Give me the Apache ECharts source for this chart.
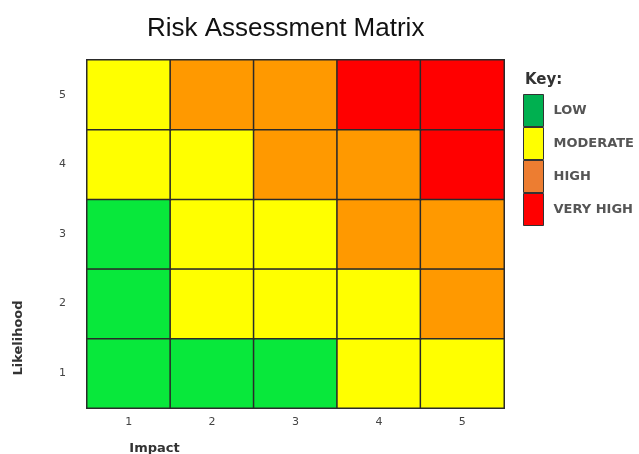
<!DOCTYPE html>
<html>
<head>
<meta charset="utf-8">
<script src="https://cdn.jsdelivr.net/npm/echarts@6/dist/echarts.min.js"></script>
<style>html,body{margin:0;padding:0;background:#fff;}#c{width:639px;height:454px;}</style>
</head>
<body>
<div id="c"></div>
<script>
var impactLabels = ['1', '2', '3', '4', '5'];
var likelihoodLabels = ['1', '2', '3', '4', '5'];
// risk level per row (likelihood 1..5), columns impact 1..5
// 1 = LOW, 2 = MODERATE, 3 = HIGH, 4 = VERY HIGH
var row1 = [1, 1, 1, 2, 2];
var row2 = [1, 2, 2, 2, 3];
var row3 = [1, 2, 2, 3, 3];
var row4 = [2, 2, 3, 3, 4];
var row5 = [2, 3, 3, 4, 4];
var levelNames = ['LOW', 'MODERATE', 'HIGH', 'VERY HIGH'];
var cellColors = ['#08E83B', '#FFFF00', '#FF9900', '#FF0000'];
var keyColors = ['#00B050', '#FFFF00', '#ED7D31', '#FF0000'];

var rows = [row1, row2, row3, row4, row5];
var cells = [];
rows.forEach(function (r, yi) {
  r.forEach(function (v, xi) { cells.push([xi, yi, v]); });
});

var series = [{
  type: 'heatmap',
  data: cells,
  itemStyle: { borderColor: '#2a2a2a', borderWidth: 1.5 },
  emphasis: { disabled: true },
  silent: true
}];
levelNames.forEach(function (n, i) {
  series.push({ type: 'bar', name: n, data: [], itemStyle: { color: keyColors[i] } });
});

var chart = echarts.init(document.getElementById('c'));
chart.setOption({
  animation: false,
  title: [{
    text: 'Risk Assessment Matrix',
    left: 142, top: 11,
    textStyle: { fontFamily: 'Liberation Sans', fontSize: 26, fontWeight: 'normal', color: '#111' }
  }, {
    text: 'Key:',
    left: 520, top: 68,
    textStyle: { fontFamily: 'DejaVu Sans', fontSize: 15, fontWeight: 'bold', color: '#333' }
  }],
  grid: { left: 87, right: 135, top: 60, bottom: 46, containLabel: false, outerBoundsMode: 'none' },
  xAxis: {
    type: 'category', data: impactLabels,
    axisLine: { show: false }, axisTick: { show: false }, splitLine: { show: false },
    axisLabel: { margin: 9, fontFamily: 'DejaVu Sans', fontSize: 11, color: '#444' },
    name: 'Impact', nameLocation: 'middle', nameGap: 34,
    nameTextStyle: { fontFamily: 'DejaVu Sans', fontSize: 13, fontWeight: 'bold', color: '#333', padding: [0, 282, 0, 0] }
  },
  yAxis: {
    type: 'category', data: likelihoodLabels,
    axisLine: { show: false }, axisTick: { show: false }, splitLine: { show: false },
    axisLabel: { margin: 21, fontFamily: 'DejaVu Sans', fontSize: 11, color: '#444' },
    name: 'Likelihood', nameLocation: 'middle', nameRotate: 90, nameGap: 62,
    nameTextStyle: { fontFamily: 'DejaVu Sans', fontSize: 13, fontWeight: 'bold', color: '#333', padding: [0, 208, 0, 0] }
  },
  visualMap: {
    type: 'piecewise', show: false, seriesIndex: 0, dimension: 2,
    pieces: levelNames.map(function (n, i) { return { value: i + 1, color: cellColors[i] }; })
  },
  legend: {
    orient: 'vertical', left: 523, top: 94, padding: 0,
    itemWidth: 20, itemHeight: 32, itemGap: 0, icon: 'rect',
    selectedMode: false,
    data: levelNames,
    itemStyle: { borderColor: '#333', borderWidth: 1 },
    textStyle: { fontFamily: 'DejaVu Sans', fontSize: 13, fontWeight: 'bold', color: '#555', padding: [0, 0, 0, 5] }
  },
  series: series
});
</script>
</body>
</html>
